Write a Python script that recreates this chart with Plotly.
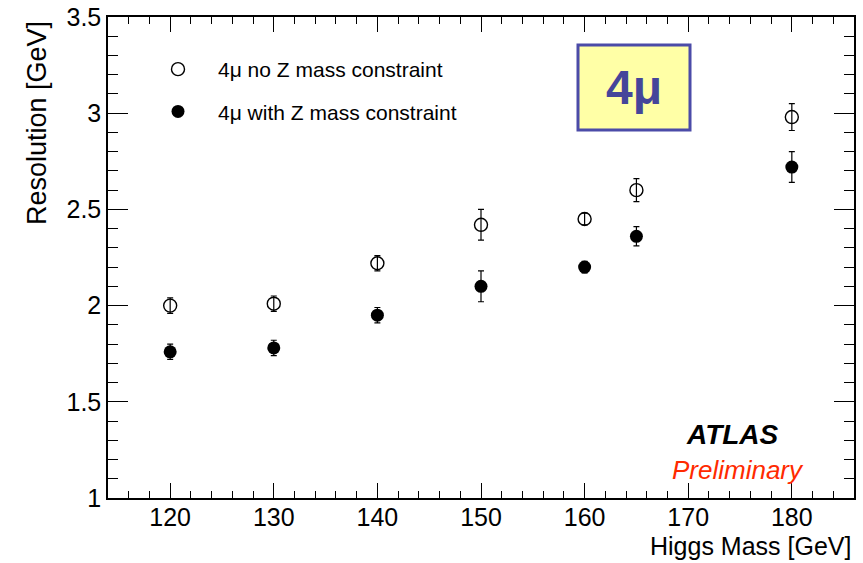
import plotly.graph_objects as go

# Higgs mass points (GeV)
higgs_mass = [120, 130, 140, 150, 160, 165, 180]

# 4mu mass resolution without the Z mass constraint
res_no_z = [2.00, 2.01, 2.22, 2.42, 2.45, 2.60, 2.98]
err_no_z = [0.04, 0.04, 0.04, 0.08, 0.03, 0.06, 0.07]

# 4mu mass resolution with the Z mass constraint
res_with_z = [1.76, 1.78, 1.95, 2.10, 2.20, 2.36, 2.72]
err_with_z = [0.04, 0.04, 0.04, 0.08, 0.03, 0.05, 0.08]

FONT = "Liberation Sans, Arial, Helvetica, sans-serif"

# plot-area geometry in pixels
W, H = 863, 563
L, R, T, B = 108, 9, 17, 65
PW, PH = W - L - R, H - T - B


def px(x):
    return (x - L) / PW


def py(y):
    return (H - B - y) / PH


fig = go.Figure()

fig.add_trace(go.Scatter(
    x=higgs_mass, y=res_no_z, mode="markers",
    name="4\u03bc no Z mass constraint", legendgroup="a",
    marker=dict(symbol="circle-open", size=13, color="black", line=dict(width=1.4, color="black")),
    error_y=dict(type="data", array=err_no_z, visible=True, color="black", thickness=1.2, width=3),
))
fig.add_trace(go.Scatter(
    x=higgs_mass, y=res_with_z, mode="markers",
    name="4\u03bc with Z mass constraint", legendgroup="b",
    marker=dict(symbol="circle", size=13, color="black"),
    error_y=dict(type="data", array=err_with_z, visible=True, color="black", thickness=1.2, width=3),
))

axis_common = dict(
    showline=True, linecolor="black", linewidth=1.5, mirror="allticks",
    ticks="inside", tickcolor="black", showgrid=False, zeroline=False,
    tickfont=dict(family=FONT, size=25, color="black"), automargin=False,
)

fig.update_xaxes(
    range=[114, 186], tick0=120, dtick=10, ticklen=15, tickwidth=1.2,
    minor=dict(dtick=2, tick0=120, ticks="inside", ticklen=7, tickcolor="black", tickwidth=1),
    ticklabelstandoff=-4,
    **axis_common,
)
fig.update_yaxes(
    range=[1, 3.5], tick0=1, dtick=0.5, ticklen=20, tickwidth=1.2,
    minor=dict(dtick=0.1, ticks="inside", ticklen=10, tickcolor="black", tickwidth=1),
    **axis_common,
)

fig.update_layout(
    width=W, height=H,
    margin=dict(l=L, r=R, t=T, b=B),
    paper_bgcolor="white", plot_bgcolor="white",
    showlegend=True,
    legend=dict(
        x=px(138), y=py(49), xanchor="left", yanchor="top",
        bgcolor="rgba(0,0,0,0)", borderwidth=0,
        font=dict(family=FONT, size=21, color="black"),
        traceorder="grouped", tracegroupgap=12, itemwidth=70,
    ),
)

# axis titles, aligned to the ends of the axes
fig.add_annotation(xref="paper", yref="paper", x=px(853), y=py(562),
                   xanchor="right", yanchor="bottom", showarrow=False,
                   text="Higgs Mass [GeV]", font=dict(family=FONT, size=25, color="black"))
fig.add_annotation(xref="paper", yref="paper", x=px(37), y=py(19),
                   xanchor="center", yanchor="top", showarrow=False, textangle=-90,
                   text="Resolution [GeV]", font=dict(family=FONT, size=27, color="black"))

# channel label box
fig.add_shape(type="rect", xref="paper", yref="paper",
              x0=px(578), x1=px(690), y0=py(130), y1=py(45),
              fillcolor="#FFFFA6", line=dict(color="#4B4BA8", width=3), layer="above")
fig.add_annotation(xref="paper", yref="paper", x=px(634), y=py(88),
                   xanchor="center", yanchor="middle", showarrow=False,
                   text="<b>4\u03bc</b>", font=dict(family=FONT, size=48, color="#45459A"))

fig.add_annotation(xref="paper", yref="paper", x=px(732), y=py(434),
                   xanchor="center", yanchor="middle", showarrow=False,
                   text="<b><i>ATLAS</i></b>", font=dict(family=FONT, size=28, color="black"))
fig.add_annotation(xref="paper", yref="paper", x=px(738), y=py(470),
                   xanchor="center", yanchor="middle", showarrow=False,
                   text="<i>Preliminary</i>", font=dict(family=FONT, size=26, color="#FF2A00"))

fig.write_html("out.html")
